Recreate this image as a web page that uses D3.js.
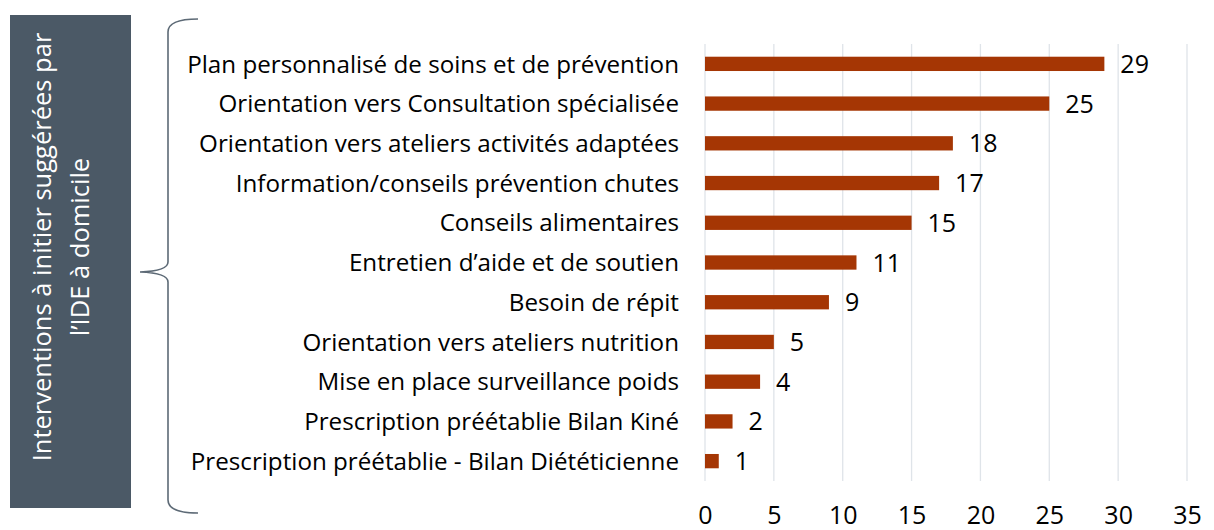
<!DOCTYPE html>
<html>
<head>
<meta charset="utf-8">
<script src="https://cdn.jsdelivr.net/npm/d3@7"></script>
<style>
  body { margin: 0; background: #fff; }
  text { font-family: "Open Sans", sans-serif; }
</style>
</head>
<body>
<script>
let width = 1214;
let height = 530;

let categories = [
  "Plan personnalisé de soins et de prévention",
  "Orientation vers Consultation spécialisée",
  "Orientation vers ateliers activités adaptées",
  "Information/conseils prévention chutes",
  "Conseils alimentaires",
  "Entretien d’aide et de soutien",
  "Besoin de répit",
  "Orientation vers ateliers nutrition",
  "Mise en place surveillance poids",
  "Prescription préétablie Bilan Kiné",
  "Prescription préétablie - Bilan Diététicienne"
];
let values = [29, 25, 18, 17, 15, 11, 9, 5, 4, 2, 1];
let xTicks = [0, 5, 10, 15, 20, 25, 30, 35];
let sideTitle = ["Interventions à initier suggérées par", "l’IDE à domicile"];

let svg = d3.select("body").append("svg")
  .attr("width", width)
  .attr("height", height);

let x = d3.scaleLinear().domain([0, 35]).range([705, 1187]);
let y = d3.scaleBand().domain(categories).range([44, 481]).paddingInner(0.64).paddingOuter(0.32);

// side panel
svg.append("rect")
  .attr("x", 10).attr("y", 15)
  .attr("width", 121).attr("height", 493)
  .attr("fill", "#4b5966");

let titleG = svg.append("g").attr("transform", "translate(0,247) rotate(-90)");
titleG.selectAll("text").data(sideTitle).enter().append("text")
  .attr("x", 0)
  .attr("y", (d, i) => i === 0 ? 51 : 89)
  .attr("text-anchor", "middle")
  .attr("fill", "#fff")
  .attr("font-size", 25.5)
  .text(d => d);

// brace
let brace = d3.path();
brace.moveTo(198, 19);
brace.quadraticCurveTo(168, 19, 168, 32);
brace.lineTo(168, 262);
brace.quadraticCurveTo(168, 271, 140, 272);
brace.quadraticCurveTo(168, 273, 168, 282);
brace.lineTo(168, 500);
brace.quadraticCurveTo(168, 513, 198, 513);
svg.append("path")
  .attr("d", brace.toString())
  .attr("fill", "none")
  .attr("stroke", "#5d6a76")
  .attr("stroke-width", 1.6);

// grid
svg.append("g").selectAll("line").data(xTicks).enter().append("line")
  .attr("x1", d => x(d)).attr("x2", d => x(d))
  .attr("y1", 44).attr("y2", 481)
  .attr("stroke", "#dfe4e9")
  .attr("stroke-width", 1.3);

// x axis labels
let xAxis = svg.append("g")
  .attr("transform", "translate(0,500)")
  .call(d3.axisBottom(x).tickValues(xTicks).tickSize(0).tickPadding(0));
xAxis.select(".domain").remove();
xAxis.selectAll("text")
  .attr("font-family", "Open Sans, sans-serif")
  .attr("font-size", 25)
  .attr("fill", "#000")
  .attr("dy", "0.95em");

// category labels
let yAxis = svg.append("g")
  .attr("transform", "translate(679,0)")
  .call(d3.axisLeft(y).tickSize(0).tickPadding(0));
yAxis.select(".domain").remove();
yAxis.selectAll("text")
  .attr("font-family", "Open Sans, sans-serif")
  .attr("font-size", 24.2)
  .attr("fill", "#000")
  .attr("dy", "0.36em");

// bars
svg.append("g").selectAll("rect").data(values).enter().append("rect")
  .attr("x", x(0))
  .attr("y", (d, i) => y(categories[i]))
  .attr("width", d => x(d) - x(0))
  .attr("height", y.bandwidth())
  .attr("fill", "#a53604");

// value labels
svg.append("g").selectAll("text").data(values).enter().append("text")
  .attr("x", d => x(d) + 16)
  .attr("y", (d, i) => y(categories[i]) + y.bandwidth() / 2)
  .attr("dy", "0.36em")
  .attr("font-size", 25)
  .attr("fill", "#000")
  .text(d => d);
</script>
</body>
</html>
